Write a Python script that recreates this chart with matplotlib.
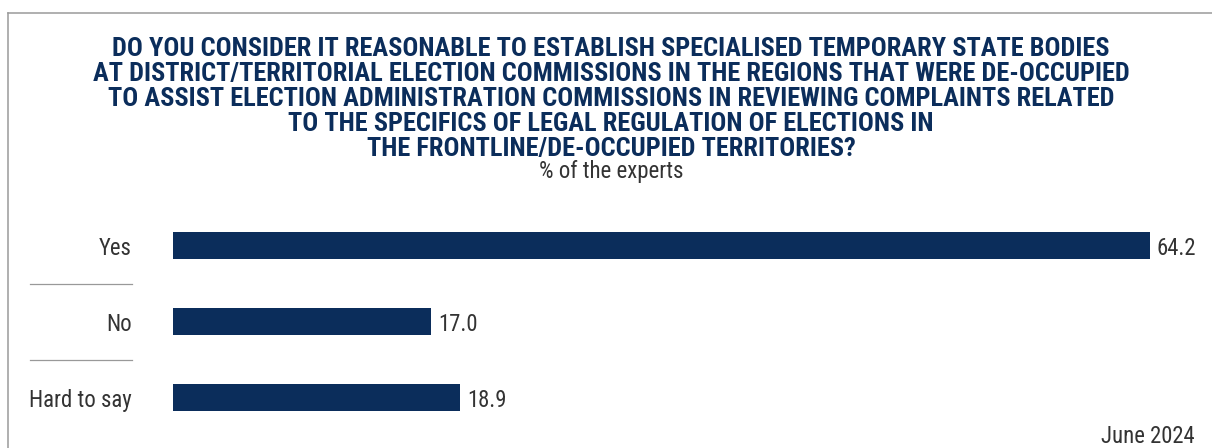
import matplotlib.pyplot as plt
from matplotlib.lines import Line2D
from matplotlib.transforms import blended_transform_factory

# Survey answers (% of the experts)
answers = ['Yes', 'No', 'Hard to say']
shares = [64.2, 17.0, 18.9]

title_lines = [
    'DO YOU CONSIDER IT REASONABLE TO ESTABLISH SPECIALISED TEMPORARY STATE BODIES',
    'AT DISTRICT/TERRITORIAL ELECTION COMMISSIONS IN THE REGIONS THAT WERE DE-OCCUPIED',
    'TO ASSIST ELECTION ADMINISTRATION COMMISSIONS IN REVIEWING COMPLAINTS RELATED',
    'TO THE SPECIFICS OF LEGAL REGULATION OF ELECTIONS IN',
    'THE FRONTLINE/DE-OCCUPIED TERRITORIES?',
]
subtitle = '% of the experts'
date_note = 'June 2024'

navy = '#0b2d5b'
grey_text = '#333333'
cond_font = ['Roboto Condensed', 'Roboto', 'DejaVu Sans']

plt.rcParams['font.family'] = cond_font

W, H = 1212, 448
fig = plt.figure(figsize=(W / 100, H / 100), dpi=100)
renderer = fig.canvas.get_renderer()


def fit_size(text, width_px, **kw):
    # font size that makes `text` span width_px pixels
    t = fig.text(0, 0, text, fontsize=10, **kw)
    w = t.get_window_extent(renderer).width
    t.remove()
    return 10 * width_px / w


body_size = fit_size('Hard to say', 102)
sub_size = fit_size(subtitle, 143)
title_size = fit_size(title_lines[1], 1038, fontweight='bold')

# bar area: value 0 at x=173px, the largest value at x=1150px
x0, x1 = 172.7, 1150
ax = fig.add_axes([x0 / W, 12.5 / H, (x1 - x0) / W, 228 / H])
ypos = list(range(len(answers)))
ax.barh(ypos, shares, height=0.36, color=navy)
ax.set_xlim(0, max(shares))
ax.set_ylim(len(answers) - 0.5, -0.5)

ax.set_yticks(ypos)
ax.set_yticklabels(answers, fontsize=body_size, color=grey_text)
ax.tick_params(axis='y', length=0, pad=29.3)
ax.set_xticks([])
for s in ax.spines.values():
    s.set_visible(False)

for y, v in zip(ypos, shares):
    ax.annotate(f'{v:.1f}', xy=(v, y), xytext=(5, 0), textcoords='offset points',
                va='center_baseline', ha='left', fontsize=body_size,
                color=grey_text, annotation_clip=False)

# thin separators between category labels
tr = blended_transform_factory(fig.transFigure, ax.transData)
for y in ypos[:-1]:
    ax.add_line(Line2D([30 / W, 132 / W], [y + 0.5, y + 0.5], transform=tr,
                       color='#999999', lw=0.9, clip_on=False))

# frame on the left and top
fig.add_artist(Line2D([8 / W, 8 / W], [0, 1 - 13.5 / H], color='#9a9a9a', lw=1.1))
fig.add_artist(Line2D([8 / W, 1], [1 - 13.5 / H, 1 - 13.5 / H], color='#9a9a9a', lw=1.1))

for i, line in enumerate(title_lines):
    fig.text(611 / W, 1 - (47 + 24.8 * i) / H, line, ha='center', va='center_baseline',
             fontsize=title_size, fontweight='bold', color=navy)
fig.text(611 / W, 1 - 169 / H, subtitle, ha='center', va='center_baseline',
         fontsize=sub_size, color=grey_text)
fig.text(1195 / W, 1 - 434 / H, date_note, ha='right', va='center_baseline',
         fontsize=body_size, color=grey_text)

fig.savefig('out.png', dpi=100)
